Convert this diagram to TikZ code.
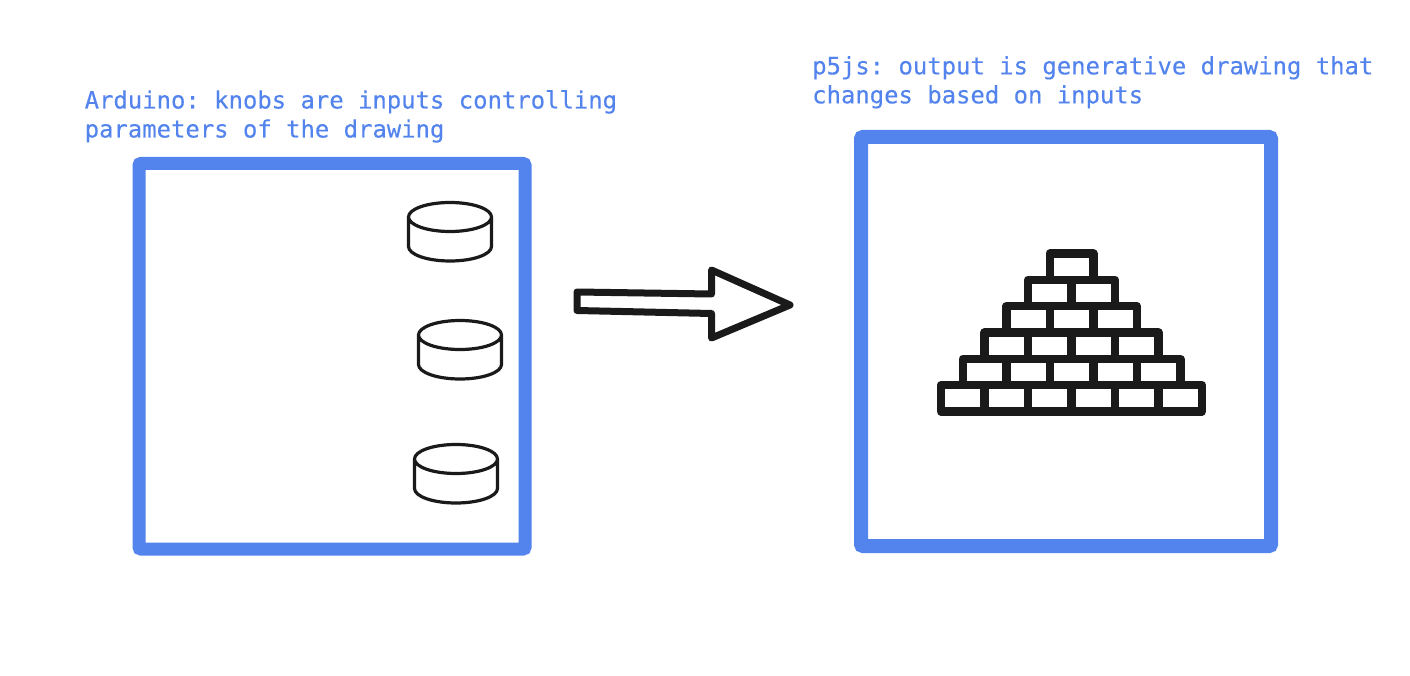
\documentclass[tikz,border=0pt]{standalone}
\usepackage{fontspec}
\setmonofont[FakeBold=0.25]{DejaVu Sans Mono}
\usepackage{xcolor}
\usepackage{tikz}
\definecolor{boxblue}{HTML}{5383EC}
\definecolor{inkblack}{HTML}{1A1A1A}
\tikzset{
  every label text/.style={text=boxblue, font=\ttfamily\fontsize{23.9}{29}\selectfont, align=left, anchor=north west, inner sep=0pt},
  panel/.style={draw=boxblue, rounded corners=2pt},
  brick/.style={draw=inkblack, line width=8.5pt, line join=round},
  knob/.style={draw=inkblack, line width=3.2pt, line join=round},
}

\begin{document}
\begin{tikzpicture}[x=1pt, y=-1pt]
\useasboundingbox (0,0) rectangle (1410,676);

\node [every label text] (arduino-text) at (84.5,90) {Arduino: knobs are inputs controlling\\parameters of the drawing};
\node [every label text] (p5js-text) at (812,56) {p5js: output is generative drawing that\\changes based on inputs};

\draw [panel, line width=13pt] (139,163.5) rectangle (525,549);
\draw [panel, line width=14pt] (861,137) rectangle (1271,546);

\foreach \x/\y in {450/217, 460/335, 456/459}
  \draw [knob] (\x,\y) ellipse [x radius=41.5, y radius=14.5]
    (\x-41.5,\y) -- ++(0,29.5) arc [start angle=180, end angle=360, x radius=41.5, y radius=-14.5] -- ++(0,-29.5);

\draw [draw=inkblack, line width=7pt, line join=round]
  (577,292) -- (711.5,294) -- (711.5,270) -- (790,305) -- (711.5,338) -- (711.5,313.5) -- (577,310.5) -- cycle;

% rows of bricks, bottom row first
\foreach \r in {0,...,5}
  \foreach \c in {\r,...,5}
    \draw [brick] ({941+43.5*(\c-\r/2)},{411.5-26.33*\r}) rectangle ++(43.5,-26.33);

\end{tikzpicture}
\end{document}
